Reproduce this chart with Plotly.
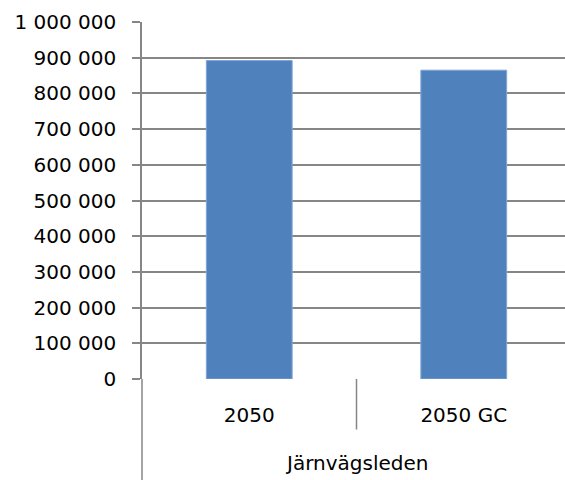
import plotly.graph_objects as go

categories = ["2050", "2050 GC"]
group_label = "Järnvägsleden"
values = [892000, 865000]
y_ticks = [0, 100000, 200000, 300000, 400000, 500000, 600000, 700000, 800000, 900000, 1000000]

FONT = "DejaVu Sans"
GRID = "#868686"
FS = 20

fig = go.Figure(go.Bar(
    x=categories, y=values, width=0.4,
    marker=dict(color="#4F81BD", line=dict(color="#7FA6D6", width=1)),
))

fig.update_layout(
    width=565, height=480,
    margin=dict(l=142, r=0, t=22, b=101),
    plot_bgcolor="white", paper_bgcolor="white",
    separators=", ",
    showlegend=False,
    font=dict(family=FONT, size=FS, color="#000000"),
    xaxis=dict(
        type="category", range=[-0.5, 1.472],
        showgrid=False, showline=False, zeroline=False,
        ticks="", tickfont=dict(family=FONT, size=FS, color="#000000"),
        ticklabelstandoff=22,
    ),
    yaxis=dict(
        range=[0, 1000000], tickvals=y_ticks, tickformat=",d",
        showgrid=True, gridcolor=GRID, gridwidth=1.5,
        showline=True, linecolor=GRID, linewidth=1.5,
        zeroline=False,
        ticks="outside", ticklen=8, tickcolor=GRID, tickwidth=1.5,
        tickfont=dict(family=FONT, size=FS, color="#000000"),
        ticklabelstandoff=12,
    ),
    shapes=[
        dict(type="line", xref="paper", yref="paper", x0=0, x1=0, y0=0, y1=-0.29,
             line=dict(color=GRID, width=1.5)),
        dict(type="line", xref="x", yref="paper", x0=0.5, x1=0.5, y0=0, y1=-0.1415,
             line=dict(color=GRID, width=1.5)),
    ],
    annotations=[
        dict(text=group_label, xref="x", yref="paper", x=0.5, y=-(463 - 379.5) / 357,
             showarrow=False, xanchor="center", yanchor="middle",
             font=dict(family=FONT, size=FS, color="#000000")),
    ],
)

fig.write_html("out.html")
